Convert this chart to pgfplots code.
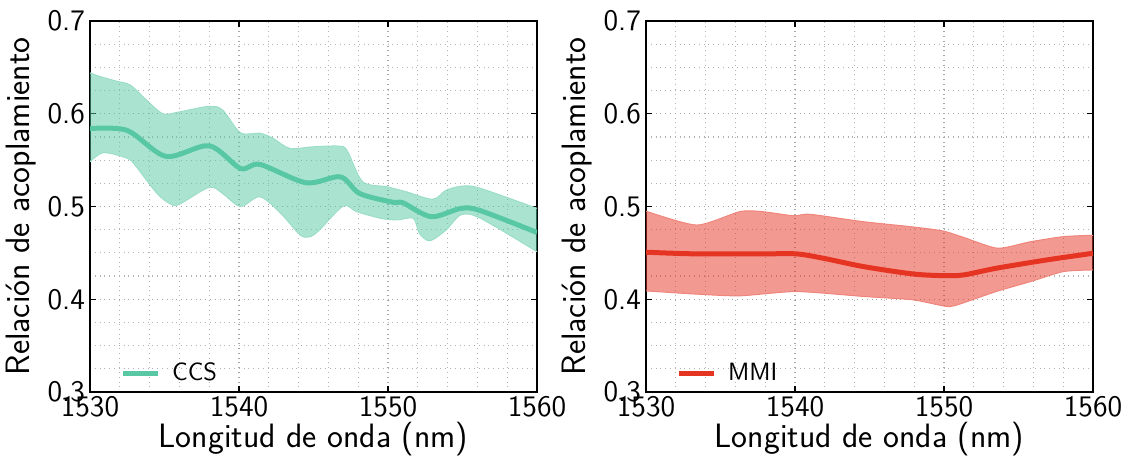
\documentclass[border=0pt]{standalone}
\usepackage{pgfplots}
\pgfplotsset{compat=1.18}
\usepgfplotslibrary{fillbetween}
\definecolor{ccs}{RGB}{88,200,164}
\definecolor{mmi}{RGB}{230,52,35}
\pgfplotsset{
  myax/.style={
    scale only axis, width=223.5pt, height=185.5pt,
    xmin=1530, xmax=1560, ymin=0.3, ymax=0.7,
    xtick={1530,1540,1550,1560}, ytick={0.3,0.4,0.5,0.6,0.7},
    minor x tick num=4, minor y tick num=3,
    grid=both,
    major grid style={dotted, gray!70, line width=0.6pt},
    minor grid style={dotted, gray!60, line width=0.6pt},
    tick align=inside, major tick length=3pt, minor tick length=0pt,
    axis line style={line width=0.7pt},
    every tick/.style={black, line width=0.7pt},
    font=\sffamily,
    /pgf/number format/assume math mode=true,
    /pgf/number format/fixed, /pgf/number format/precision=1,
    /pgf/number format/1000 sep={},
    tick label style={font=\fontsize{14.9}{16}\sffamily},
    xticklabel style={yshift=1.5pt},
    yticklabel style={xshift=1pt},
    label style={font=\fontsize{16.9}{19}\sffamily},
    xlabel={Longitud de onda (nm)},
    ylabel={Relación de acoplamiento},
    xlabel style={yshift=4pt},
    ylabel style={yshift=-1pt},
    legend style={draw=none, fill=none, at={(rel axis cs:0.055,0.0)}, anchor=south west,
      font=\fontsize{12.5}{14}\sffamily,
      /tikz/every odd column/.append style={column sep=4pt}},
    legend cell align=left,
  }
}
\begin{document}
\begin{tikzpicture}
\begin{axis}[myax]
\addplot[name path=cu, draw=ccs!60, line width=0.5pt, smooth, tension=0.5, forget plot] coordinates {
(1530,0.644)(1530.7,0.640)(1531.8,0.635)(1532.7,0.631)(1533.8,0.6146)(1534.9,0.600)(1536.0,0.602)(1538.0,0.608)(1538.9,0.604)(1540.1,0.5795)(1541.4,0.579)(1542.3,0.5734)(1543.4,0.5627)(1545.0,0.5644)(1546.8,0.565)(1547.3,0.559)(1548.3,0.5267)(1549.9,0.5213)(1551.2,0.516)(1553.0,0.5078)(1553.9,0.5175)(1555.0,0.522)(1556.2,0.5196)(1560,0.498)};
\addplot[name path=cl, draw=ccs!60, line width=0.5pt, smooth, tension=0.5, forget plot] coordinates {
(1530,0.5482)(1530.9,0.558)(1532.5,0.552)(1533.1,0.543)(1534.5,0.514)(1535.4,0.5027)(1536.0,0.5024)(1538.0,0.5207)(1538.9,0.514)(1540.1,0.500)(1541.4,0.5105)(1542.8,0.4927)(1544.1,0.4693)(1544.8,0.4675)(1545.4,0.4747)(1547.0,0.5005)(1547.9,0.4944)(1549.5,0.4873)(1550.6,0.4855)(1551.7,0.4873)(1552.1,0.4712)(1552.8,0.463)(1553.9,0.4747)(1554.9,0.491)(1556.2,0.4873)(1560,0.4513)};
\addplot[ccs, fill opacity=0.5, draw=none, forget plot] fill between[of=cu and cl];
\addplot[ccs, line width=2.5pt, smooth, tension=0.5] coordinates {
(1530,0.584)(1532.5,0.582)(1535.1,0.554)(1538.0,0.5655)(1540.1,0.541)(1541.4,0.5454)(1544.5,0.5256)(1546.8,0.532)(1548.1,0.514)(1550.35,0.5045)(1551,0.504)(1552.9,0.489)(1554.9,0.498)(1556.2,0.4955)(1560,0.472)};
\addlegendentry{CCS}
\end{axis}
\begin{axis}[myax, xshift=278pt]
\addplot[name path=mu, draw=mmi!60, line width=0.5pt, smooth, tension=0.4, forget plot] coordinates {
(1530,0.495)(1533.4,0.480)(1536.3,0.4945)(1537.8,0.4945)(1539.9,0.490)(1541.0,0.4916)(1544.6,0.4836)(1547.9,0.478)(1549.9,0.4737)(1551.3,0.4668)(1553.6,0.455)(1555.8,0.462)(1558.0,0.4675)(1560,0.469)};
\addplot[name path=ml, draw=mmi!60, line width=0.5pt, smooth, tension=0.4, forget plot] coordinates {
(1530,0.409)(1533.4,0.4055)(1536.3,0.4037)(1540.1,0.4083)(1544.6,0.403)(1547.9,0.3994)(1549.9,0.393)(1550.7,0.393)(1553.5,0.4083)(1555.8,0.419)(1558.0,0.4298)(1560,0.4316)};
\addplot[mmi, fill opacity=0.5, draw=none, forget plot] fill between[of=mu and ml];
\addplot[mmi, line width=2.5pt, smooth, tension=0.5] coordinates {
(1530,0.4507)(1533.4,0.4489)(1537.8,0.4489)(1540.1,0.4489)(1541.9,0.4442)(1544.6,0.4352)(1547.9,0.4273)(1549.9,0.4255)(1551.3,0.4262)(1553.5,0.4334)(1556.9,0.4424)(1560,0.4496)};
\addlegendentry{MMI}
\end{axis}
\pgfresetboundingbox
\path[use as bounding box] (-45pt,-36.5pt) rectangle (519.5pt,196pt);
\end{tikzpicture}
\end{document}
